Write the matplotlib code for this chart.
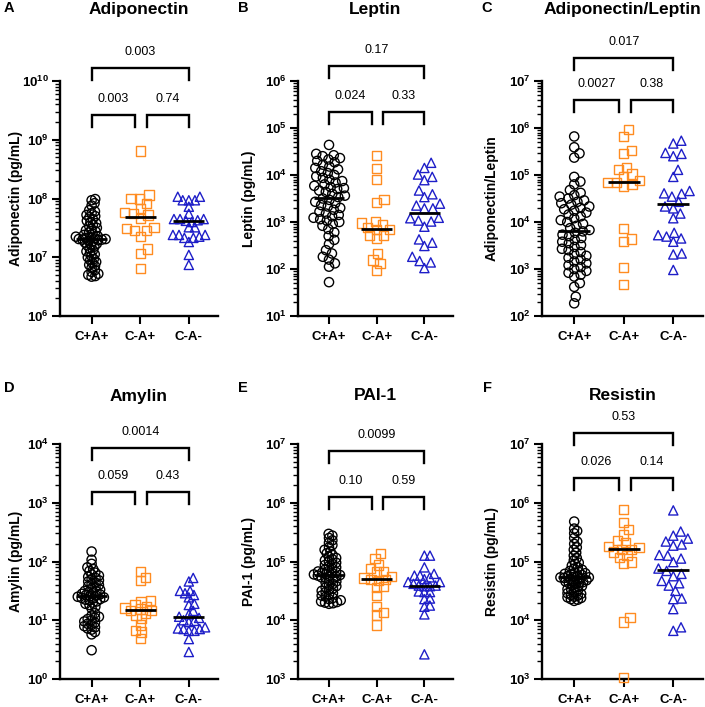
import numpy as np
import matplotlib
matplotlib.use("Agg")
import matplotlib.pyplot as plt
from matplotlib.ticker import LogLocator, FuncFormatter, NullFormatter

plt.rcParams['font.family'] = ['Liberation Sans', 'DejaVu Sans']
plt.rcParams['mathtext.fontset'] = 'custom'
plt.rcParams['mathtext.rm'] = 'Liberation Sans'
plt.rcParams['mathtext.bf'] = 'Liberation Sans:bold'

groups = ['C+A+', 'C-A+', 'C-A-']
titles = ['Adiponectin', 'Leptin', 'Adiponectin/Leptin', 'Amylin', 'PAI-1', 'Resistin']
ylabels = ['Adiponectin (pg/mL)', 'Leptin (pg/mL)', 'Adiponectin/Leptin',
           'Amylin (pg/mL)', 'PAI-1 (pg/mL)', 'Resistin (pg/mL)']
panel_letters = ['A', 'B', 'C', 'D', 'E', 'F']
ylim_exp = [(6, 10), (1, 6), (2, 7), (0, 4), (3, 7), (3, 7)]

# p-values: [C+A+ vs C-A-, C+A+ vs C-A+, C-A+ vs C-A-]
pvals = [['0.003', '0.003', '0.74'],
         ['0.17', '0.024', '0.33'],
         ['0.017', '0.0027', '0.38'],
         ['0.0014', '0.059', '0.43'],
         ['0.0099', '0.10', '0.59'],
         ['0.53', '0.026', '0.14']]

adipo_cpap = [7.99, 7.97, 7.92, 7.88, 7.80, 7.78, 7.75, 7.72, 7.70, 7.68, 7.65, 7.62, 7.60,
              7.58, 7.55, 7.53, 7.50, 7.48, 7.46, 7.44, 7.42, 7.40, 7.38, 7.36, 7.35, 7.34,
              7.33, 7.32, 7.31, 7.31, 7.30, 7.30, 7.29, 7.28, 7.27, 7.25, 7.23, 7.21, 7.20,
              7.18, 7.15, 7.12, 7.10, 7.08, 7.05, 7.02, 7.00, 6.97, 6.95, 6.92, 6.90, 6.87,
              6.85, 6.82, 6.78, 6.75, 6.72, 6.70, 6.68, 6.67]
adipo_cmap = [8.81, 8.06, 8.00, 7.99, 7.92, 7.83, 7.76, 7.74, 7.72, 7.66, 7.51, 7.49, 7.46,
              7.45, 7.35, 7.14, 7.07, 6.81]
adipo_cmam = [8.03, 8.03, 7.97, 7.97, 7.97, 7.86, 7.74, 7.65, 7.65, 7.65, 7.63, 7.62, 7.60,
              7.51, 7.51, 7.38, 7.38, 7.35, 7.38, 7.33, 7.33, 7.26, 7.04, 6.87]

lep_cpap = [4.64, 4.45, 4.42, 4.40, 4.36, 4.33, 4.30, 4.27, 4.22, 4.18, 4.15, 4.12, 4.08,
            4.04, 4.00, 3.97, 3.94, 3.90, 3.87, 3.84, 3.80, 3.77, 3.74, 3.72, 3.70, 3.67,
            3.64, 3.60, 3.56, 3.53, 3.50, 3.47, 3.43, 3.40, 3.36, 3.33, 3.30, 3.26, 3.22,
            3.18, 3.15, 3.12, 3.09, 3.06, 3.03, 3.00, 2.96, 2.92, 2.85, 2.78, 2.70, 2.62,
            2.53, 2.40, 2.33, 2.26, 2.20, 2.12, 2.05, 1.72]
lep_cmap = [4.42, 4.13, 3.90, 3.48, 3.42, 3.01, 2.98, 2.95, 2.88, 2.84, 2.84, 2.72, 2.72,
            2.65, 2.33, 2.19, 2.12, 1.97]
lep_cmam = [4.26, 4.15, 4.01, 3.96, 3.89, 3.67, 3.59, 3.53, 3.39, 3.35, 3.29, 3.29, 3.09,
            3.08, 3.03, 3.01, 2.90, 2.63, 2.56, 2.49, 2.26, 2.17, 2.14, 2.02]

ratio_cpap = [5.82, 5.59, 5.46, 5.37, 4.96, 4.86, 4.80, 4.68, 4.62, 4.57, 4.54, 4.50, 4.46,
              4.43, 4.40, 4.37, 4.33, 4.30, 4.27, 4.24, 4.20, 4.16, 4.12, 4.08, 4.04, 4.00,
              3.96, 3.92, 3.87, 3.83, 3.80, 3.77, 3.73, 3.70, 3.66, 3.62, 3.58, 3.55, 3.51,
              3.47, 3.43, 3.40, 3.36, 3.32, 3.28, 3.24, 3.20, 3.16, 3.12, 3.08, 3.04, 3.00,
              2.96, 2.92, 2.88, 2.84, 2.70, 2.62, 2.41, 2.27]
ratio_cmap = [5.97, 5.82, 5.52, 5.46, 5.16, 5.11, 5.02, 4.97, 4.88, 4.84, 4.84, 4.79, 4.75,
              3.87, 3.64, 3.58, 3.03, 2.67]
ratio_cmam = [5.73, 5.67, 5.47, 5.45, 5.40, 5.11, 4.96, 4.66, 4.61, 4.60, 4.54, 4.43, 4.33,
              4.29, 4.18, 4.08, 3.77, 3.72, 3.69, 3.65, 3.58, 3.33, 3.31, 2.98]

amy_cpap = [2.17, 2.03, 1.96, 1.90, 1.87, 1.84, 1.81, 1.78, 1.76, 1.74, 1.72, 1.70, 1.68,
            1.66, 1.64, 1.62, 1.60, 1.58, 1.56, 1.54, 1.52, 1.50, 1.49, 1.48, 1.46, 1.45,
            1.44, 1.43, 1.42, 1.41, 1.40, 1.39, 1.38, 1.37, 1.36, 1.35, 1.34, 1.32, 1.30,
            1.28, 1.26, 1.23, 1.20, 1.12, 1.08, 1.06, 1.04, 1.02, 1.00, 0.98, 0.96, 0.94,
            0.92, 0.90, 0.88, 0.86, 0.84, 0.80, 0.76, 0.49]
amy_cmap = [1.83, 1.73, 1.67, 1.33, 1.31, 1.26, 1.24, 1.21, 1.19, 1.17, 1.16, 1.12, 1.09,
            1.03, 0.92, 0.83, 0.80, 0.69]
amy_cmam = [1.72, 1.66, 1.50, 1.50, 1.46, 1.43, 1.39, 1.28, 1.26, 1.16, 1.10, 1.06, 1.04,
            1.00, 0.99, 0.97, 0.88, 0.86, 0.85, 0.85, 0.82, 0.82, 0.68, 0.46]

pai_cpap = [5.47, 5.44, 5.40, 5.36, 5.32, 5.28, 5.24, 5.20, 5.17, 5.14, 5.11, 5.08, 5.06,
            5.04, 5.02, 5.00, 4.98, 4.96, 4.94, 4.92, 4.90, 4.88, 4.86, 4.84, 4.83, 4.82,
            4.81, 4.80, 4.79, 4.78, 4.77, 4.76, 4.75, 4.74, 4.73, 4.72, 4.70, 4.68, 4.66,
            4.64, 4.62, 4.60, 4.58, 4.56, 4.54, 4.52, 4.50, 4.48, 4.46, 4.44, 4.42, 4.40,
            4.38, 4.36, 4.34, 4.32, 4.31, 4.30, 4.29, 4.28]
pai_cmap = [5.13, 5.05, 4.94, 4.88, 4.83, 4.82, 4.75, 4.72, 4.70, 4.70, 4.68, 4.58, 4.56,
            4.42, 4.23, 4.13, 4.09, 3.92]
pai_cmam = [5.10, 5.10, 4.90, 4.79, 4.76, 4.76, 4.73, 4.70, 4.65, 4.65, 4.62, 4.59, 4.59,
            4.58, 4.58, 4.49, 4.48, 4.48, 4.37, 4.36, 4.25, 4.23, 4.10, 3.42]

res_cpap = [5.68, 5.56, 5.52, 5.48, 5.40, 5.34, 5.30, 5.24, 5.20, 5.15, 5.10, 5.06, 5.02,
            4.98, 4.96, 4.93, 4.90, 4.88, 4.86, 4.84, 4.82, 4.81, 4.80, 4.79, 4.78, 4.77,
            4.76, 4.75, 4.74, 4.73, 4.73, 4.72, 4.71, 4.70, 4.69, 4.68, 4.67, 4.66, 4.65,
            4.64, 4.63, 4.62, 4.60, 4.58, 4.57, 4.55, 4.53, 4.52, 4.50, 4.48, 4.46, 4.45,
            4.43, 4.42, 4.40, 4.39, 4.38, 4.36, 4.35, 4.33]
res_cmap = [5.89, 5.66, 5.55, 5.45, 5.36, 5.32, 5.26, 5.24, 5.21, 5.20, 5.16, 5.10, 5.07,
            4.99, 4.96, 4.05, 3.97, 3.02]
res_cmam = [5.87, 5.51, 5.44, 5.39, 5.34, 5.29, 5.27, 5.11, 5.10, 5.05, 4.99, 4.88, 4.84,
            4.79, 4.75, 4.67, 4.63, 4.59, 4.50, 4.37, 4.36, 4.19, 3.88, 3.82]

panel_data = [[adipo_cpap, adipo_cmap, adipo_cmam],
              [lep_cpap, lep_cmap, lep_cmam],
              [ratio_cpap, ratio_cmap, ratio_cmam],
              [amy_cpap, amy_cmap, amy_cmam],
              [pai_cpap, pai_cmap, pai_cmam],
              [res_cpap, res_cmap, res_cmam]]

# ---- style / layout ----
colors = ['black', '#FF8C21', '#1E1EC8']
markers = ['o', 's', '^']
swarm_d = [8.0, 8.5, 8.5]          # nominal collision diameter, px
swarm_max = [16.0, 17.0, 17.0]     # max half width of a swarm, px
W, H = 705, 707
lefts = [60, 298, 542]
widths = [158, 155, 161]
tops = [81, 444]
axh = 235
bar_top = [1.055, 1.063, 1.098, 0.983, 0.970, 1.047]
bar_low = [0.855, 0.869, 0.919, 0.795, 0.774, 0.855]
title_y = [9.5, 396]
letter_y = [8, 388]
letter_x = [9, 243, 487]
ylabel_off = [44, 49, 50]


def swarm(ypix, d):
    order = np.argsort(ypix)
    px, py = [], []
    xs = np.zeros(len(ypix))
    for i in order:
        y = ypix[i]
        cands = [0.0]
        for a, b in zip(px, py):
            dy = abs(b - y)
            if dy < d:
                dx = np.sqrt(d * d - dy * dy)
                cands += [a + dx, a - dx]
        cands.sort(key=abs)
        for c in cands:
            if all((c - a) ** 2 + (y - b) ** 2 >= d * d - 1e-6 for a, b in zip(px, py)):
                break
        xs[i] = c
        px.append(c)
        py.append(y)
    return xs


def packed(ypix, d, wmax):
    # shrink the spacing until the swarm fits its column (points overlap, as in Prism)
    while True:
        xs = swarm(ypix, d)
        if np.abs(xs).max() <= wmax or d < 2:
            return xs
        d *= 0.92


fig = plt.figure(figsize=(W / 100, H / 100), dpi=100)

for k in range(6):
    row, col = divmod(k, 3)
    l, w, t = lefts[col], widths[col], tops[row]
    ax = fig.add_axes([l / W, 1 - (t + axh) / H, w / W, axh / H])
    lo, hi = ylim_exp[k]
    ax.set_yscale('log')
    ax.set_ylim(10.0 ** lo, 10.0 ** hi)
    ax.set_xlim(-0.65, 2.6)

    ppu = ax.transData.transform((1, 1))[0] - ax.transData.transform((0, 1))[0]
    for g in range(3):
        vals = 10.0 ** np.array(panel_data[k][g])
        ypix = ax.transData.transform(np.column_stack([np.zeros(len(vals)), vals]))[:, 1]
        xoff = packed(ypix, swarm_d[g], swarm_max[g]) / ppu
        ax.scatter(g + xoff, vals, s=44, marker=markers[g], facecolors='none',
                   edgecolors=colors[g], linewidths=1.0, zorder=3, clip_on=False)
        med = np.median(vals)
        ax.plot([g - 0.32, g + 0.32], [med, med], color='black', lw=2.0, zorder=4,
                solid_capstyle='butt')

    # brackets
    tr = ax.get_xaxis_transform()
    leg = 0.05
    for (x0, x1, yb, txt) in [(0, 2, bar_top[k], pvals[k][0]),
                              (0, 0.9, bar_low[k], pvals[k][1]),
                              (1.14, 2, bar_low[k], pvals[k][2])]:
        ax.plot([x0, x0, x1, x1], [yb - leg, yb, yb, yb - leg], color='black', lw=1.7,
                transform=tr, clip_on=False, solid_joinstyle='miter')
        ax.text((x0 + x1) / 2, yb + 0.068, txt, transform=tr, ha='center', va='center',
                fontsize=9)

    for s in ['top', 'right']:
        ax.spines[s].set_visible(False)
    for s in ['left', 'bottom']:
        ax.spines[s].set_linewidth(1.7)
    ax.set_xticks(range(3))
    ax.set_xticklabels(groups, fontsize=9.5, fontweight='bold')
    ax.yaxis.set_major_locator(LogLocator(base=10, numticks=20))
    ax.yaxis.set_minor_locator(LogLocator(base=10, subs=np.arange(2, 10), numticks=20))
    ax.yaxis.set_major_formatter(FuncFormatter(lambda v, p: r'$\mathbf{10^{%d}}$' % round(np.log10(v))))
    ax.yaxis.set_minor_formatter(NullFormatter())
    ax.tick_params(axis='y', which='major', length=6, width=1.5, labelsize=9.5, pad=2)
    ax.tick_params(axis='y', which='minor', length=3.5, width=1.0)
    ax.tick_params(axis='x', length=6, width=1.5, pad=5)

    cx = (l + w / 2) / W
    fig.text(cx, 1 - title_y[row] / H, titles[k], ha='center', va='center',
             fontsize=12.5, fontweight='bold')
    fig.text(letter_x[col] / W, 1 - letter_y[row] / H, panel_letters[k], ha='center',
             va='center', fontsize=10.5, fontweight='bold')
    fig.text((l - ylabel_off[col]) / W, 1 - (t + axh / 2) / H, ylabels[k], rotation=90,
             ha='center', va='center', fontsize=10, fontweight='bold')

fig.savefig('out.png', dpi=100)
